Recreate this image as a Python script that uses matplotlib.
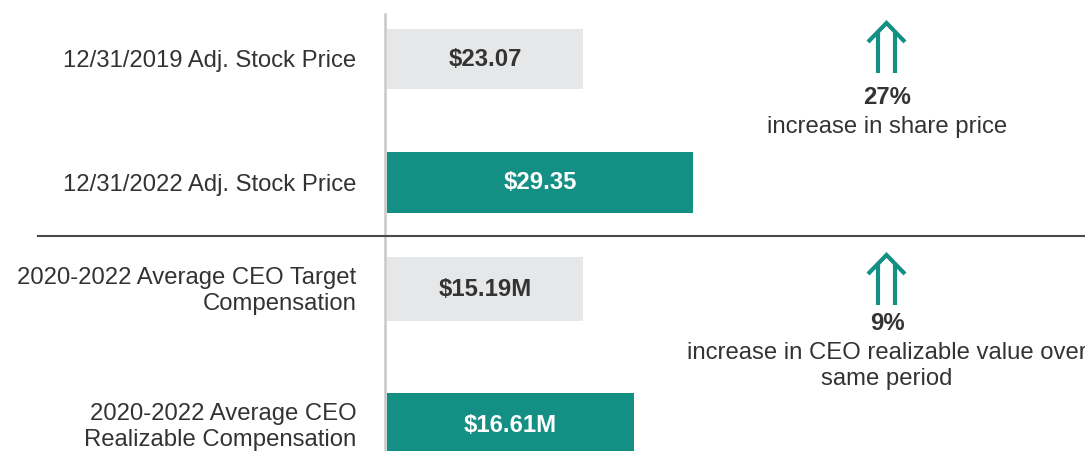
import matplotlib
matplotlib.use("Agg")
import matplotlib.pyplot as plt
import matplotlib.transforms as mtransforms
from matplotlib.lines import Line2D

plt.rcParams['font.family'] = ['Liberation Sans', 'DejaVu Sans']

# ---- data ----
price_labels = ["12/31/2019 Adj. Stock Price", "12/31/2022 Adj. Stock Price"]
price_values = [23.07, 29.35]
price_texts = ["$23.07", "$29.35"]

comp_labels = ["2020-2022 Average CEO Target\nCompensation",
               "2020-2022 Average CEO\nRealizable Compensation"]
comp_values = [15.19, 16.61]
comp_texts = ["$15.19M", "$16.61M"]

price_change = "27%"
price_change_text = "increase in share price"
comp_change = "9%"
comp_change_text = "increase in CEO realizable value over\nsame period"

# ---- style ----
W, H = 1085, 451
GRAY = "#e6e7e8"
TEAL = "#138f84"
TXT = "#333333"
bar_colors = [GRAY, TEAL]
val_colors = [TXT, "white"]
FS = 17.2

fig = plt.figure(figsize=(W / 100, H / 100), dpi=100)


def fx(x):
    return x / W


def fy(y):
    return 1 - y / H


def make_axes(top_px, bot_px, xlim, ylim):
    ax = fig.add_axes([fx(387), fy(bot_px), fx(W - 387), (bot_px - top_px) / H])
    ax.set_xlim(*xlim)
    ax.set_ylim(*ylim)
    for s in ax.spines.values():
        s.set_visible(False)
    ax.set_xticks([])
    ax.tick_params(axis='y', length=0, pad=22, labelsize=FS, labelcolor=TXT)
    ax.patch.set_alpha(0)
    return ax


ax1 = make_axes(0, 236, (11.88, 51.72), (1.433, -0.478))
ax2 = make_axes(236, 451, (9.733, 29.16), (1.191, -0.39))

shift = mtransforms.ScaledTranslation(0, -0.02, fig.dpi_scale_trans)

for ax, labels, values, texts, h in [
    (ax1, price_labels, price_values, price_texts, 0.49),
    (ax2, comp_labels, comp_values, comp_texts, 0.47),
]:
    pos = list(range(len(values)))
    bars = ax.barh(pos, values, height=h, color=bar_colors, left=0)
    ax.set_yticks(pos)
    ax.set_yticklabels(labels, va='center')
    for lab in ax.get_yticklabels():
        lab.set_linespacing(1.28)
        lab.set_transform(lab.get_transform() + shift)
    for i, (b, t) in enumerate(zip(bars, texts)):
        x0 = ax.get_xlim()[0]
        xc = (x0 + b.get_width()) / 2
        ax.text(xc, b.get_y() + b.get_height() / 2, t, ha='center', va='center',
                fontsize=FS, fontweight='bold', color=val_colors[i])

# vertical baseline and separator
fig.add_artist(Line2D([fx(385), fx(385)], [fy(14), fy(451)], color="#c8c8c8", lw=1.8))
fig.add_artist(Line2D([fx(38), fx(1085)], [fy(236), fy(236)], color="#4a4a4a", lw=1.5))


def double_arrow(cx, top, bottom):
    lw = 3.0
    fig.add_artist(Line2D([fx(cx - 9), fx(cx - 9)], [fy(bottom), fy(top + 9)],
                          color=TEAL, lw=lw, solid_capstyle='butt'))
    fig.add_artist(Line2D([fx(cx + 8.5), fx(cx + 8.5)], [fy(bottom), fy(top + 9)],
                          color=TEAL, lw=lw, solid_capstyle='butt'))
    fig.add_artist(Line2D([fx(cx - 18.5), fx(cx), fx(cx + 18.5)],
                          [fy(top + 19), fy(top), fy(top + 19)],
                          color=TEAL, lw=lw, solid_joinstyle='miter',
                          solid_capstyle='butt'))


double_arrow(886.5, 23, 73)
double_arrow(886.5, 255, 305)

fig.text(fx(887), fy(98), price_change, ha='center', va='center',
         fontsize=FS, fontweight='bold', color=TXT)
fig.text(fx(887), fy(127), price_change_text, ha='center', va='center',
         fontsize=FS, color=TXT)
fig.text(fx(887), fy(323), comp_change, ha='center', va='center',
         fontsize=FS, fontweight='bold', color=TXT)
fig.text(fx(887), fy(366), comp_change_text, ha='center', va='center',
         fontsize=FS, color=TXT, linespacing=1.2)

fig.savefig("out.png", dpi=100, facecolor="white")
